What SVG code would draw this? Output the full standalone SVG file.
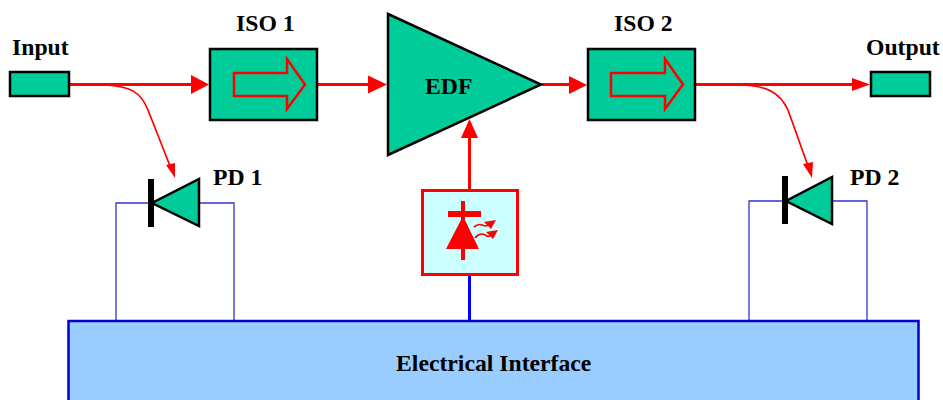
<svg xmlns="http://www.w3.org/2000/svg" width="943" height="400" viewBox="0 0 943 400">
<style>
text{font-family:"Liberation Serif",serif;font-weight:bold;font-size:23.700px;fill:#000}
.g{fill:#00cc99;stroke:#000;stroke-width:2.500}
.ar{fill:none;stroke:#f00;stroke-width:3}
.in{fill:none;stroke:#f00;stroke-width:2.500}
.th{fill:none;stroke:#f00;stroke-width:1.700}
.bl{fill:none;stroke:#3333cc;stroke-width:1.300}
.bb{fill:none;stroke:#00f;stroke-width:3}
.ah{fill:#f00}
</style>
<rect width="943" height="400" fill="#fff"/>
<g id="connectors">
<path class="ar" d="M70 84.500H195M317 84.500H370M542 84.500H572M696 84.500H855"/>
<polygon class="ah" points="209,84.500 191,75 191,94"/>
<polygon class="ah" points="387,84.500 368,75.500 368,93.500"/>
<polygon class="ah" points="587,85 569,76 569,94"/>
<polygon class="ah" points="870,84.500 852,78 852,91"/>
<path class="th" d="M105 85C130 86 141 92 148 110L170 166"/>
<polygon class="ah" points="175,178 166,165 175,163"/>
<path class="th" d="M742 85C768 86 780 93 788 110L808 166"/>
<polygon class="ah" points="812,178 803,164 813,162"/>
<path class="ar" d="M469.500 190V135"/>
<polygon class="ah" points="469.500,119 461,138 478,138"/>
<path class="bl" d="M150 203H116V320M198 203H234V320"/>
<path class="bl" d="M785 201H749V320M832 201H867V320"/>
<path class="bb" d="M469.500 274V320"/>
</g>
<g id="input"><text x="12" y="55">Input</text><rect class="g" x="10" y="72" width="59" height="24"/></g>
<g id="iso1"><text x="236" y="31">ISO 1</text><rect class="g" x="210" y="49" width="107" height="71"/><path class="in" d="M234 73H287V59L305 84.500L287 109V96H234Z"/></g>
<g id="edf"><polygon class="g" points="388,14 541,84.500 388,155"/><text x="425" y="94">EDF</text></g>
<g id="iso2"><text x="614" y="31">ISO 2</text><rect class="g" x="588" y="49" width="107" height="71"/><path class="in" d="M611 73H665V59L683 84.500L665 109V96H611Z"/></g>
<g id="output"><text x="866" y="55">Output</text><rect class="g" x="871" y="72" width="59" height="24"/></g>
<g id="pd1"><polygon class="g" points="199,179 199,226 152,203"/><rect x="148" y="179" width="6" height="48" fill="#000"/><text x="213" y="185">PD 1</text></g>
<g id="pd2"><polygon class="g" points="832,177 832,224 786,201"/><rect x="782" y="176" width="6" height="48" fill="#000"/><text x="850" y="185">PD 2</text></g>
<g id="laser">
<rect x="422.500" y="190.500" width="95" height="84" fill="#ccffff" stroke="#f00" stroke-width="3"/>
<rect x="461" y="201" width="4" height="59" fill="#f00"/>
<rect x="448" y="211" width="33" height="6" fill="#f00"/>
<polygon class="ah" points="463,216 479,249 446,249"/>
<path class="th" d="M474 227C480 222 482 226 486 226L493 223M475 238C480 232 484 234 487 236C490 238 491 234 494 233"/>
<polygon class="ah" points="496,220 484,222 491,229"/>
<polygon class="ah" points="498,230 486,232 493,239"/>
</g>
<g id="electrical-interface"><rect x="68.500" y="321" width="850" height="90" fill="#99ccff" stroke="#00c" stroke-width="2.500"/><text x="396" y="371">Electrical Interface</text></g>
</svg>
